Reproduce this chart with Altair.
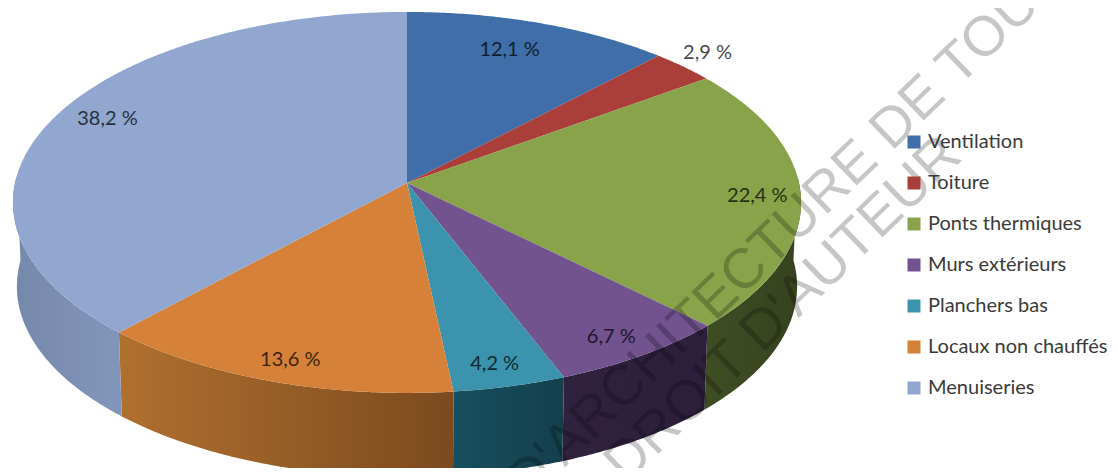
import math
import altair as alt

names = ["Ventilation", "Toiture", "Ponts thermiques", "Murs extérieurs",
         "Planchers bas", "Locaux non chauffés", "Menuiseries"]
shares = [12.1, 2.9, 22.4, 6.7, 4.2, 13.6, 38.2]
share_text = ["12,1 %", "2,9 %", "22,4 %", "6,7 %", "4,2 %", "13,6 %", "38,2 %"]
colors = ["#3f6ea8", "#aa3e3a", "#88a34a", "#72528f", "#3c93ad", "#d5813a", "#91a7cf"]
wall_left = ["#2c4e78", "#7a2c2a", "#3f4d24", "#30223f", "#174f5e", "#b0702f", "#7688aa"]
wall_right = ["#2c4e78", "#7a2c2a", "#36421f", "#2c1f3c", "#143f4d", "#7b4a1e", "#8296bb"]
label_radius = [0.81, 1.11, 0.89, 0.895, 0.90, 0.90, 0.865]
label_turn = [-1.4, -0.8, 0.1, 0.8, 0.6, -0.8, 2.4]
wm_lines = ["D'ARCHITECTURE DE TOUS", "DROIT D'AUTEUR"]
wm_lon = [528, 626]
wm_lat = [503, 485]

CX, CY, RX, RY, K = 407.0, 183.0, 392.0, 188.5, 0.102
DEPTH, SHRINK = 84.0, 0.99
PROJ = dict(type="identity", scale=1, translate=[-8, -8])


def top(t, r=1.0):
    a = math.radians(t)
    u, v = r * math.sin(a), -r * math.cos(a)
    w = 1 - K * v
    return [CX + RX * u / w, CY + RY * v / w]


def bottom(t):
    x, y = top(t)
    return [CX + (x - CX) * SHRINK, y + DEPTH]


def sweep(a, b):
    n = max(2, int(abs(b - a) * 2))
    return [a + (b - a) * i / n for i in range(n + 1)]


edges = [0.0]
for s in shares:
    edges.append(edges[-1] + s * 3.6)
edges[-1] = 360.0

features = []
walls = []
points = []
for i, name in enumerate(names):
    a, b = edges[i], edges[i + 1]
    ring = [top(0, 0)] + [top(t) for t in sweep(a, b)] + [top(0, 0)]
    features.append({"type": "Feature", "properties": {"name": name},
                     "geometry": {"type": "Polygon", "coordinates": [ring]}})
    lo, hi = max(a, 88.0), min(b, 272.0)
    if hi > lo:
        ts = sweep(lo, hi)
        wring = [top(t) for t in ts] + [bottom(t) for t in reversed(ts)]
        wring.append(wring[0])
        walls.append((i, {"type": "Feature", "properties": {"name": name},
                          "geometry": {"type": "Polygon", "coordinates": [wring]}}))
    mid = (a + b) / 2 + label_turn[i]
    lon, lat = top(mid, label_radius[i])
    points.append({"lon": lon, "lat": lat, "text": share_text[i]})


def geo(values):
    return alt.Data(values={"type": "FeatureCollection", "features": values},
                    format=alt.DataFormat(property="features", type="json"))


layers = []
for i, f in walls:
    grad = alt.Gradient(gradient="linear", x1=0, x2=1, y1=0, y2=0,
                        stops=[alt.GradientStop(offset=0, color=wall_left[i]),
                               alt.GradientStop(offset=1, color=wall_right[i])])
    layers.append(alt.Chart(geo([f])).mark_geoshape(fill=grad, strokeWidth=0, stroke="transparent")
                  .project(**PROJ))

layers.append(
    alt.Chart(geo(features)).mark_geoshape(strokeWidth=0, stroke="transparent").encode(
        fill=alt.Fill("properties.name:N",
                      scale=alt.Scale(domain=names, range=colors),
                      sort=names,
                      legend=alt.Legend(title=None, orient="none", legendX=896, legendY=124,
                                        symbolType="square", symbolSize=169, symbolStrokeWidth=0,
                                        labelFont="Lato", labelFontSize=20, labelColor="#3a3a3a",
                                        labelOffset=4, rowPadding=21, labelLimit=300))
    ).project(**PROJ)
)

layers.append(
    alt.Chart(alt.Data(values=points)).mark_text(font="Lato", fontSize=20, color="#000000", opacity=0.72)
    .encode(longitude="lon:Q", latitude="lat:Q", text="text:N").project(**PROJ)
)

wm_points = [{"lon": wm_lon[i], "lat": wm_lat[i], "text": wm_lines[i]} for i in range(2)]
layers.append(
    alt.Chart(alt.Data(values=wm_points)).mark_text(
        font="Liberation Sans", fontSize=56, color="#000000", opacity=0.22,
        angle=316, align="left", baseline="alphabetic")
    .encode(longitude="lon:Q", latitude="lat:Q", text="text:N").project(**PROJ)
)

chart = alt.layer(*layers).properties(
    width=1102, height=460, padding=0,
    autosize=alt.AutoSizeParams(type="none", contains="padding")
).configure_view(stroke=None)

chart.save("out.html", embed_options={"renderer": "svg", "actions": False})
